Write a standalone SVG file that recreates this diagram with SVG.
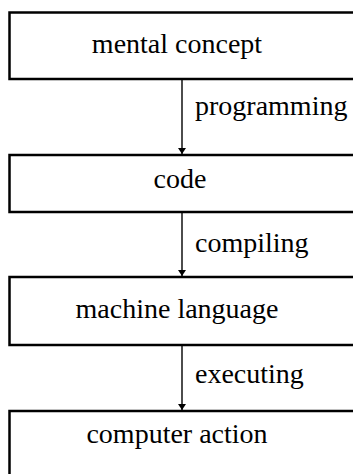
<svg xmlns="http://www.w3.org/2000/svg" width="353" height="474" viewBox="0 0 353 474">
  <style>
    .box { fill: #fff; stroke: #000; stroke-width: 2.5; }
    .t { font-family: 'Liberation Serif', 'Times New Roman', 'DejaVu Serif', serif; font-size: 28px; fill: #000; }
    .mid { text-anchor: middle; }
    .edge { stroke: #000; stroke-width: 1.4; fill: none; marker-end: url(#head); }
  </style>
  <defs>
    <marker id="head" viewBox="0 0 6 8" refX="6" refY="4" markerWidth="6" markerHeight="8" markerUnits="userSpaceOnUse" orient="auto">
      <path d="M0,0 L6,4 L0,8 Z" fill="#000"/>
    </marker>
  </defs>

  <!-- stages: boxes run off the right edge of the page -->
  <g id="node-mental-concept">
    <rect class="box" x="9.5" y="12.5" width="360" height="66.5"/>
    <text class="t mid" x="177" y="53">mental concept</text>
  </g>
  <g id="node-code">
    <rect class="box" x="9.5" y="155" width="360" height="57"/>
    <text class="t mid" x="180" y="188">code</text>
  </g>
  <g id="node-machine-language">
    <rect class="box" x="9.5" y="277" width="360" height="68"/>
    <text class="t mid" x="177" y="318">machine language</text>
  </g>
  <g id="node-computer-action">
    <rect class="box" x="9.5" y="411" width="360" height="80"/>
    <text class="t mid" x="177" y="443">computer action</text>
  </g>

  <!-- transitions between stages -->
  <g id="connectors">
    <line class="edge" x1="182" y1="80" x2="182" y2="154"/>
    <text class="t" x="195" y="115">programming</text>
    <line class="edge" x1="182" y1="213" x2="182" y2="276"/>
    <text class="t" x="195" y="252">compiling</text>
    <line class="edge" x1="182" y1="346" x2="182" y2="410"/>
    <text class="t" x="195" y="383">executing</text>
  </g>
</svg>
